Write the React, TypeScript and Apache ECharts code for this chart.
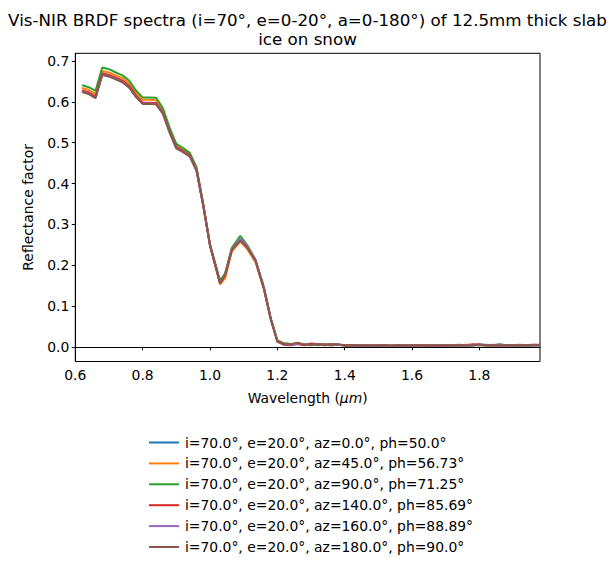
import React, { useEffect, useRef } from "react";
import * as echarts from "echarts";

const wavelength = [0.62,0.64,0.66,0.68,0.70,0.72,0.74,0.76,0.78,0.80,0.82,0.84,0.86,0.88,0.90,0.92,0.94,0.96,0.98,1.00,1.03,1.045,1.065,1.09,1.11,1.135,1.16,1.18,1.20,1.22,1.24,1.26,1.28,1.30,1.32,1.34,1.36,1.38,1.40,1.42,1.44,1.46,1.48,1.50,1.52,1.54,1.56,1.58,1.60,1.62,1.64,1.66,1.68,1.70,1.72,1.74,1.76,1.78,1.80,1.82,1.84,1.86,1.88,1.90,1.92,1.94,1.96,1.98];

const az0 = [0.626,0.621,0.611,0.668,0.664,0.657,0.650,0.637,0.614,0.597,0.597,0.596,0.573,0.527,0.488,0.479,0.468,0.433,0.346,0.249,0.157,0.177,0.239,0.263,0.246,0.212,0.144,0.070,0.014,0.006,0.005,0.009,0.005,0.005,0.006,0.004,0.006,0.005,0.003,0.004,0.003,0.004,0.002,0.003,0.004,0.003,0.002,0.003,0.004,0.003,0.003,0.004,0.002,0.003,0.004,0.003,0.003,0.004,0.005,0.005,0.004,0.006,0.004,0.003,0.004,0.003,0.004,0.004];
const az45 = [0.634,0.629,0.619,0.676,0.672,0.665,0.658,0.645,0.622,0.605,0.605,0.604,0.580,0.532,0.492,0.482,0.471,0.436,0.348,0.249,0.153,0.168,0.234,0.258,0.240,0.207,0.142,0.069,0.016,0.008,0.007,0.008,0.006,0.006,0.004,0.005,0.003,0.005,0.004,0.003,0.003,0.004,0.003,0.002,0.003,0.004,0.003,0.003,0.002,0.004,0.003,0.004,0.003,0.002,0.003,0.004,0.005,0.004,0.004,0.003,0.004,0.005,0.004,0.003,0.004,0.004,0.005,0.004];
const az90 = [0.641,0.636,0.627,0.684,0.680,0.672,0.665,0.652,0.628,0.611,0.611,0.610,0.585,0.537,0.497,0.487,0.475,0.440,0.350,0.251,0.162,0.180,0.243,0.272,0.250,0.214,0.145,0.070,0.015,0.009,0.007,0.008,0.005,0.004,0.005,0.006,0.004,0.005,0.004,0.003,0.004,0.003,0.002,0.003,0.004,0.002,0.003,0.004,0.003,0.003,0.002,0.003,0.004,0.003,0.003,0.004,0.003,0.004,0.004,0.003,0.004,0.003,0.004,0.003,0.004,0.003,0.003,0.004];
const az140 = [0.628,0.623,0.613,0.670,0.666,0.659,0.652,0.639,0.616,0.598,0.598,0.597,0.574,0.528,0.489,0.480,0.469,0.434,0.347,0.249,0.156,0.176,0.238,0.262,0.245,0.212,0.144,0.070,0.013,0.005,0.004,0.007,0.004,0.008,0.007,0.005,0.006,0.005,0.003,0.004,0.003,0.002,0.004,0.003,0.003,0.002,0.004,0.003,0.004,0.003,0.002,0.003,0.004,0.003,0.004,0.005,0.004,0.006,0.005,0.004,0.003,0.004,0.003,0.004,0.005,0.004,0.005,0.005];
const az160 = [0.625,0.620,0.610,0.667,0.663,0.656,0.649,0.636,0.613,0.596,0.596,0.595,0.572,0.526,0.487,0.478,0.467,0.432,0.346,0.249,0.156,0.178,0.240,0.265,0.248,0.213,0.146,0.071,0.014,0.007,0.005,0.008,0.006,0.005,0.006,0.004,0.005,0.005,0.004,0.003,0.004,0.003,0.003,0.004,0.002,0.003,0.003,0.004,0.003,0.002,0.003,0.004,0.003,0.003,0.004,0.003,0.004,0.003,0.005,0.004,0.005,0.004,0.003,0.004,0.004,0.003,0.004,0.004];
const az180 = [0.624,0.619,0.609,0.666,0.662,0.655,0.648,0.635,0.612,0.595,0.595,0.594,0.571,0.525,0.486,0.477,0.466,0.431,0.345,0.248,0.155,0.176,0.238,0.260,0.244,0.211,0.143,0.069,0.013,0.006,0.006,0.010,0.005,0.006,0.005,0.005,0.005,0.006,0.004,0.004,0.003,0.004,0.003,0.003,0.003,0.003,0.004,0.003,0.003,0.003,0.004,0.003,0.003,0.004,0.003,0.004,0.003,0.004,0.006,0.004,0.004,0.003,0.004,0.004,0.003,0.004,0.004,0.004];

const seriesNames = [
  "i=70.0°, e=20.0°, az=0.0°, ph=50.0°",
  "i=70.0°, e=20.0°, az=45.0°, ph=56.73°",
  "i=70.0°, e=20.0°, az=90.0°, ph=71.25°",
  "i=70.0°, e=20.0°, az=140.0°, ph=85.69°",
  "i=70.0°, e=20.0°, az=160.0°, ph=88.89°",
  "i=70.0°, e=20.0°, az=180.0°, ph=90.0°",
];
const seriesValues = [az0, az45, az90, az140, az160, az180];
const colors = ["#1f77b4", "#ff7f0e", "#2ca02c", "#d62728", "#9467bd", "#8c564b"];

const titleLines = [
  "Vis-NIR BRDF spectra (i=70°, e=0-20°, a=0-180°) of 12.5mm thick slab",
  "ice on snow",
];

const xTicks = [0.6, 0.8, 1.0, 1.2, 1.4, 1.6, 1.8];
const yTicks = [0.0, 0.1, 0.2, 0.3, 0.4, 0.5, 0.6, 0.7];

const FONT = "DejaVu Sans";

export default function App() {
  const ref = useRef<HTMLDivElement>(null);
  useEffect(() => {
    if (!ref.current) return;
    const chart = echarts.init(ref.current, null, { renderer: "svg" });
    chart.setOption({
      animation: false,
      backgroundColor: "#ffffff",
      color: colors,
      textStyle: { fontFamily: FONT },
      title: titleLines.map((t, i) => ({
        text: t,
        left: 307.5,
        top: 10.5 + i * 19,
        padding: 0,
        textAlign: "center",
        textStyle: { fontFamily: FONT, fontSize: 16.7, fontWeight: "normal", color: "#000", lineHeight: 19 },
      })),
      grid: {
        left: 75.3,
        right: 75,
        top: 53.3,
        bottom: 207.5,
        show: true,
        borderColor: "#000",
        borderWidth: 1,
        backgroundColor: "transparent",
      },
      legend: {
        orient: "vertical",
        left: 144,
        top: 430.5,
        icon: "rect",
        itemWidth: 30,
        itemHeight: 2,
        itemGap: 6.9,
        textStyle: { fontFamily: FONT, fontSize: 13.9, color: "#000", lineHeight: 14, padding: [0, 0, 0, 1] },
        data: seriesNames,
      },
      xAxis: {
        type: "value",
        min: 0.6,
        max: 1.98,
        name: "Wavelength ({it|μm})",
        nameLocation: "middle",
        nameGap: 29,
        nameTextStyle: {
          fontFamily: FONT,
          fontSize: 13.9,
          color: "#000",
          rich: { it: { fontFamily: FONT, fontSize: 13.9, fontStyle: "italic", color: "#000" } },
        },
        axisLine: { show: true, lineStyle: { color: "#000", width: 1 } },
        axisTick: { show: true, length: 3.5, lineStyle: { color: "#000" }, customValues: xTicks },
        axisLabel: {
          color: "#000",
          fontFamily: FONT,
          fontSize: 13.9,
          margin: 6,
          customValues: xTicks,
          formatter: (v: number) => v.toFixed(1),
        },
        splitLine: { show: false },
      },
      yAxis: {
        type: "value",
        min: -0.036,
        max: 0.719,
        name: "Reflectance factor",
        nameLocation: "middle",
        nameGap: 40,
        nameTextStyle: { fontFamily: FONT, fontSize: 13.9, color: "#000" },
        axisLine: { show: true, lineStyle: { color: "#000", width: 1 } },
        axisTick: { show: true, length: 3.5, lineStyle: { color: "#000" }, customValues: yTicks },
        axisLabel: {
          color: "#000",
          fontFamily: FONT,
          fontSize: 13.9,
          margin: 6,
          customValues: yTicks,
          formatter: (v: number) => v.toFixed(1),
        },
        splitLine: { show: false },
      },
      series: seriesNames.map((name, k) => ({
        name,
        type: "line",
        symbol: "none",
        showSymbol: false,
        lineStyle: { width: 2, color: colors[k] },
        itemStyle: { color: colors[k] },
        data: wavelength.map((w, i) => [w, seriesValues[k][i]]),
      })),
    });
    return () => chart.dispose();
  }, []);
  return (
    <div
      ref={ref}
      style={{ position: "fixed", left: 0, top: 0, width: 615, height: 569, background: "#fff" }}
    />
  );
}
